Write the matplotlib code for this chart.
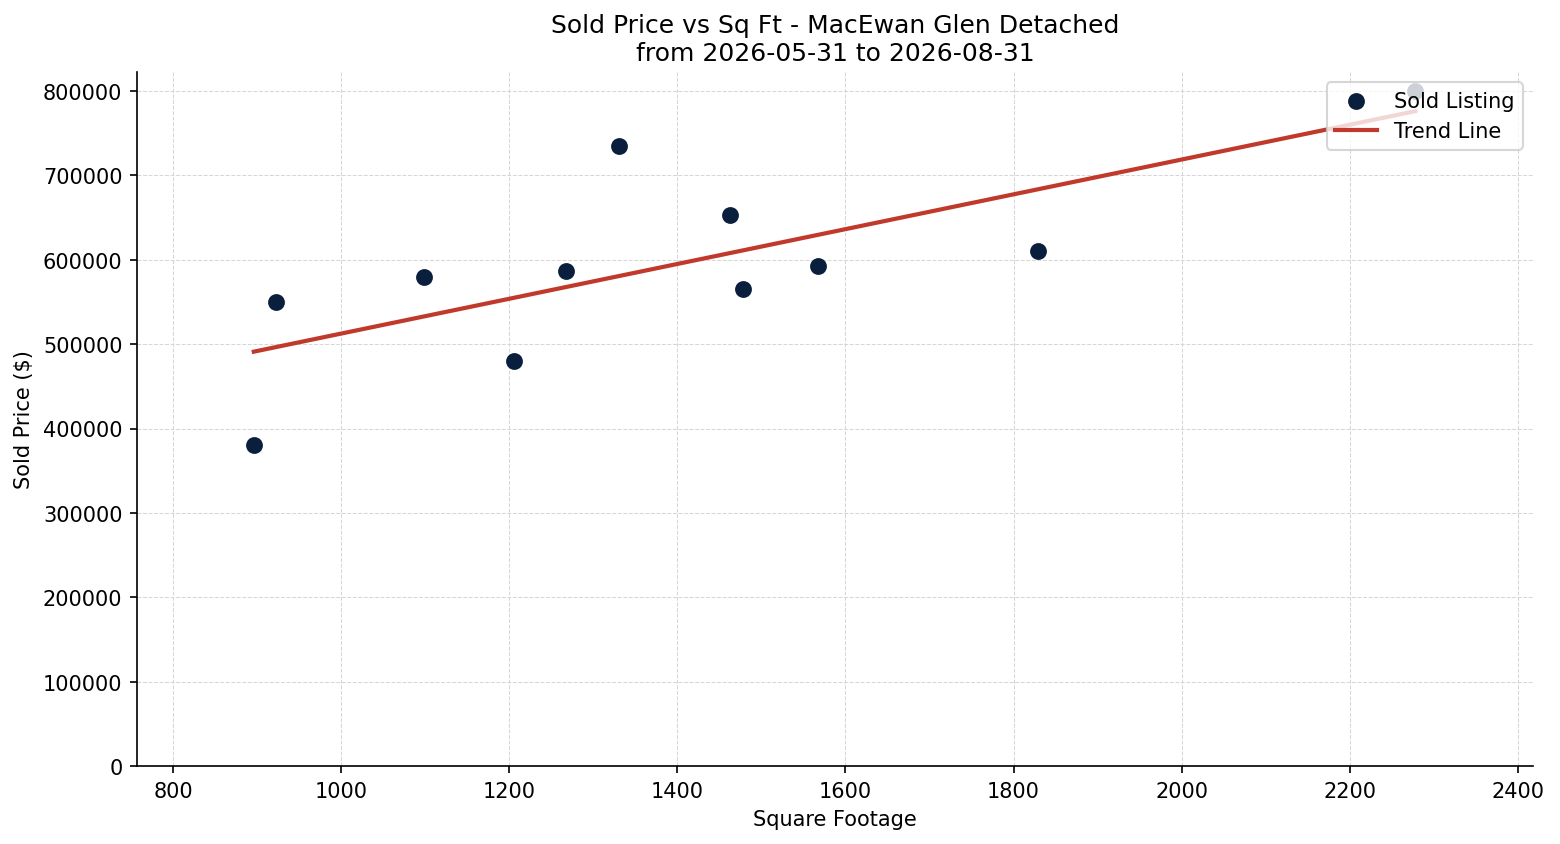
import numpy as np
import matplotlib
matplotlib.use("Agg")
import matplotlib.pyplot as plt

# sold listings (sq ft, sold price)
sqft = [896, 922, 1099, 1205, 1268, 1331, 1463, 1478, 1567, 1829, 2278]
price = [380000, 550000, 580000, 480000, 587000, 735000, 653000, 565000, 592000, 610000, 800000]

x = np.array(sqft)
y = np.array(price)
slope, intercept = np.polyfit(x, y, 1)
xs = np.array([x.min(), x.max()])

fig, ax = plt.subplots(figsize=(10.4, 5.6333), dpi=150)
fig.subplots_adjust(left=0.0878, right=0.9827, top=0.9136, bottom=0.0923)

ax.scatter(x, y, s=50, color='#0a1f3d', label='Sold Listing', zorder=3)
ax.plot(xs, slope * xs + intercept, color='#c0392b', linewidth=2, label='Trend Line', zorder=2)

ax.set_xlim(757, 2418)
ax.set_ylim(0, 822500)
ax.set_xticks(range(800, 2401, 200))
ax.set_yticks(range(0, 800001, 100000))
ax.ticklabel_format(style='plain', axis='y')

ax.set_title('Sold Price vs Sq Ft - MacEwan Glen Detached\nfrom 2026-05-31 to 2026-08-31', fontsize=12)
ax.set_xlabel('Square Footage')
ax.set_ylabel('Sold Price ($)')
ax.grid(True, linestyle='--', linewidth=0.5, color='#d6d6d6')
ax.set_axisbelow(True)
ax.spines['top'].set_visible(False)
ax.spines['right'].set_visible(False)
ax.legend(loc='upper right')

fig.savefig('out.png')
